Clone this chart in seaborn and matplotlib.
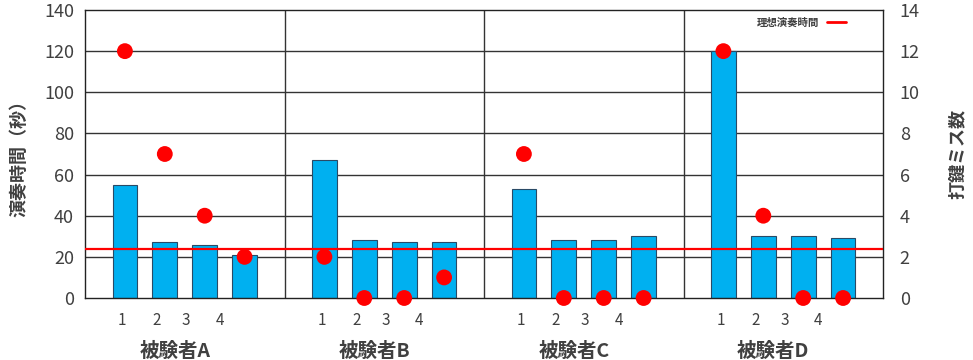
import numpy as np
import pandas as pd
import matplotlib
matplotlib.use("Agg")
import matplotlib.pyplot as plt
import seaborn as sns
from matplotlib.lines import Line2D

subjects = ["被験者A", "被験者B", "被験者C", "被験者D"]
trials = ["1", "2", "3", "4"]
play_time = [55, 27, 26, 21,
             67, 28, 27, 27,
             53, 28, 28, 30,
             120, 30, 30, 29]
miss_count = [12, 7, 4, 2,
              2, 0, 0, 1,
              7, 0, 0, 0,
              12, 4, 0, 0]
ideal_time = 24
tick_offsets = [0.93, 1.80, 2.53, 3.38]

sns.set_theme(style="white")
plt.rcParams['font.family'] = ['Noto Sans CJK JP', 'DejaVu Sans']

group_w = 5
pos = [g * group_w + t + 1 for g in range(len(subjects)) for t in range(len(trials))]
df = pd.DataFrame({"pos": pos, "time": play_time, "miss": miss_count})

fig = plt.figure(figsize=(9.73, 3.6), dpi=100)
ax = fig.add_axes([85/973, 1-298/360, (883-85)/973, 288/360])

ax.set_axisbelow(True)
for v in range(20, 140, 20):
    ax.axhline(v, color="#333333", lw=1.0, zorder=0)
for g in range(1, len(subjects)):
    ax.axvline(g * group_w, color="#333333", lw=1.0, zorder=0)

sns.barplot(data=df, x="pos", y="time", native_scale=True, width=0.62,
            color="#00B0F0", edgecolor="#2a4a66", linewidth=0.8,
            saturation=1, ax=ax, zorder=2)
ax.axhline(ideal_time, color="#FF0000", lw=1.6, zorder=3)

ax.set_xlim(0, group_w * len(subjects))
ax.set_ylim(0, 140)
ax.set_yticks(range(0, 141, 20))
ax.tick_params(axis="y", labelsize=13, colors="#404040", length=0, pad=8)
xt = [g * group_w + o for g in range(len(subjects)) for o in tick_offsets]
ax.set_xticks(xt)
ax.set_xticklabels(trials * len(subjects), fontsize=11, color="#404040")
ax.tick_params(axis="x", length=0, pad=10)
ax.set_xlabel("")
ax.set_ylabel("演奏時間（秒）", fontsize=13, fontweight="bold", color="#404040", labelpad=11)
for g, name in enumerate(subjects):
    ax.text(g * group_w + 2.25, -0.185, name, transform=ax.get_xaxis_transform(),
            ha="center", va="center", fontsize=14, fontweight="bold", color="#404040")
for s in ax.spines.values():
    s.set_color("#222222")
    s.set_linewidth(1.0)

ax2 = ax.twinx()
sns.scatterplot(data=df, x="pos", y="miss", color="#FF0000", s=130,
                edgecolor="none", ax=ax2, zorder=5, clip_on=False)
ax2.set_ylim(0, 14)
ax2.set_yticks(range(0, 15, 2))
ax2.tick_params(axis="y", labelsize=13, colors="#404040", length=0, pad=12)
ax2.set_ylabel("打鍵ミス数", fontsize=13, fontweight="bold", color="#404040",
               rotation=90, labelpad=20)
ax2.set_xlim(0, group_w * len(subjects))
for s in ax2.spines.values():
    s.set_visible(False)

handle = Line2D([0], [0], color="#FF0000", lw=2)
leg = ax2.legend([handle], ["理想演奏時間"], loc="upper right", frameon=False,
                 markerfirst=False, fontsize=7.5, handlelength=1.8,
                 bbox_to_anchor=(0.965, 1.005))
for t in leg.get_texts():
    t.set_fontweight("bold")
    t.set_color("#404040")

fig.savefig("out.png", dpi=100)
